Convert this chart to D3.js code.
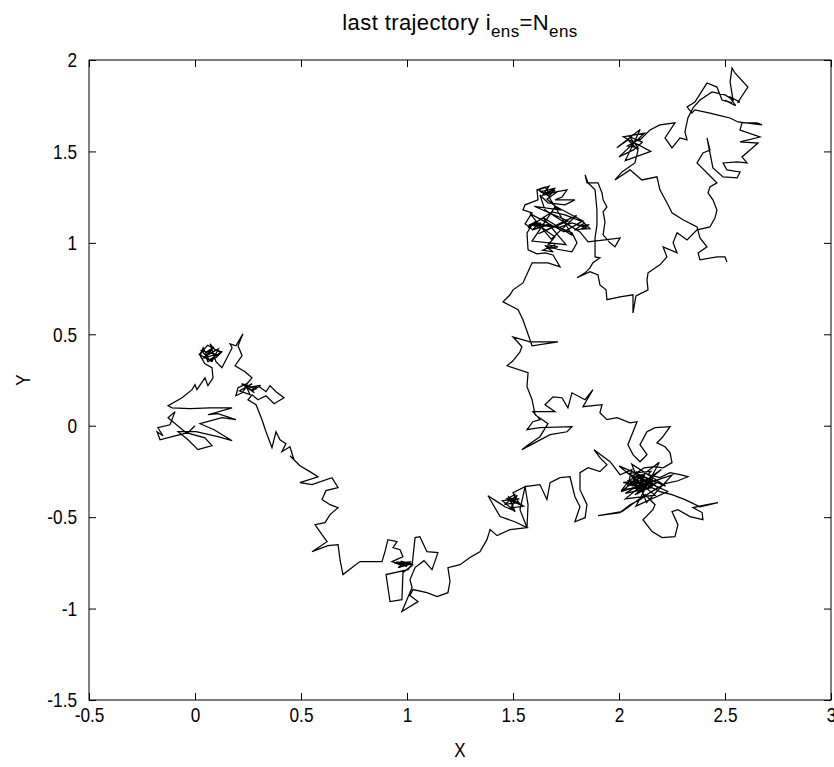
<!DOCTYPE html>
<html>
<head>
<meta charset="utf-8">
<script src="https://cdn.jsdelivr.net/npm/d3@7"></script>
<style>
  html, body { margin: 0; padding: 0; background: #fff; overflow: hidden; }
  svg { display: block; }
  text { font-family: "Liberation Sans", Arial, sans-serif; fill: #000; }
</style>
</head>
<body>
<svg id="chart" width="834" height="767"></svg>
<script>
// Axis ticks and limits
const xTicks = [-0.5, 0, 0.5, 1, 1.5, 2, 2.5, 3];
const yTicks = [-1.5, -1, -0.5, 0, 0.5, 1, 1.5, 2];
const xDomain = [-0.5, 3];
const yDomain = [-1.5, 2];

// Positions [X, Y] of the last ensemble member, in time order
const track = [
  // start and west lobe
  [0,0],[-0.033,-0.038],[-0.108,-0.060],[-0.165,-0.077],[-0.179,-0.033],[-0.151,-0.055],[-0.175,-0.011],
  [-0.118,0.005],[-0.094,0.077],[-0.127,0.044],[-0.042,-0.038],[0.047,-0.066],[0.080,-0.109],[0.014,-0.131],
  [-0.033,-0.077],[-0.080,-0.033],[0.005,-0.033],[0.108,-0.060],[0.175,-0.082],[0.090,-0.022],[0.024,0.011],
  [0.127,0.044],[0.193,0.033],[0.108,0.066],[0.061,0.060],[0.175,0.098],[0.142,0.098],[0.071,0.098],
  [-0.024,0.093],[-0.108,0.098],[-0.127,0.109],[-0.061,0.153],[-0.014,0.197],[0,0.224],[0.009,0.197],
  [0.047,0.262],[0.061,0.219],[0.085,0.262],[0.080,0.317],[0.047,0.339],[0.024,0.383],[0.038,0.426],
  [0.057,0.383],[0.080,0.415],
  [0.05,0.40],[0.09,0.43],[0.04,0.37],[0.10,0.39],[0.03,0.41],[0.07,0.36],[0.12,0.40],[0.06,0.44],
  [0.02,0.39],[0.08,0.35],[0.11,0.42],[0.05,0.38],
  [0.061,0.350],[0.099,0.372],[0.127,0.404],[0.094,0.415],[0.071,0.448],[0.099,0.350],
  [0.127,0.317],[0.156,0.383],[0.175,0.426],[0.165,0.448],[0.193,0.437],[0.226,0.503],[0.203,0.437],
  [0.222,0.383],[0.189,0.328],[0.236,0.295],[0.269,0.262],[0.245,0.230],[0.203,0.208],[0.193,0.164],
  [0.222,0.180],[0.250,0.224],
  [0.23,0.20],[0.27,0.23],[0.21,0.19],[0.26,0.17],[0.24,0.22],[0.29,0.20],[0.22,0.23],[0.28,0.18],
  [0.25,0.21],[0.31,0.22],[0.27,0.19],
  [0.269,0.197],[0.297,0.219],[0.335,0.186],[0.354,0.219],[0.382,0.186],[0.420,0.153],
  [0.373,0.120],[0.335,0.164],[0.297,0.142],[0.269,0.169],[0.250,0.142],[0.288,0.115],[0.316,0.033],
  // descent to the south
  [0.335,-0.033],[0.363,-0.120],[0.382,-0.033],[0.401,-0.077],[0.429,-0.098],[0.410,-0.142],[0.448,-0.115],
  [0.467,-0.186],[0.448,-0.164],[0.495,-0.219],[0.542,-0.251],[0.580,-0.279],[0.495,-0.311],[0.552,-0.322],
  [0.646,-0.284],[0.675,-0.339],[0.618,-0.355],[0.599,-0.404],[0.637,-0.432],[0.675,-0.448],[0.637,-0.486],
  [0.613,-0.530],[0.566,-0.541],[0.599,-0.596],[0.623,-0.634],[0.552,-0.689],[0.627,-0.656],[0.675,-0.650],
  [0.684,-0.732],[0.698,-0.814],[0.741,-0.776],[0.778,-0.743],[0.835,-0.743],[0.882,-0.743],
  // south lobe near X = 1
  [0.896,-0.689],[0.910,-0.623],[0.953,-0.634],[0.934,-0.667],[0.967,-0.678],[0.981,-0.716],[0.929,-0.743],
  [0.991,-0.765],
  [0.95,-0.745],[1.01,-0.755],[0.96,-0.76],[1.02,-0.745],[0.94,-0.75],[1.00,-0.77],[0.97,-0.74],
  [1.03,-0.76],[0.98,-0.755],
  [0.958,-0.776],[1.024,-0.754],[1.005,-0.787],[0.901,-0.814],[0.920,-0.962],[0.976,-0.951],
  [0.981,-0.803],[1.024,-0.765],[1.038,-0.612],[1.061,-0.607],[1.094,-0.689],[1.146,-0.694],[1.118,-0.787],
  [1.080,-0.738],[1.038,-0.776],[1.014,-0.842],[1.024,-0.885],[1.000,-0.951],[0.976,-1.016],[1.052,-0.962],
  [1.014,-0.929],[1.028,-0.896],[1.094,-0.913],[1.142,-0.934],[1.193,-0.913],[1.203,-0.852],[1.193,-0.776],
  [1.250,-0.760],[1.297,-0.721],[1.344,-0.689],
  // climb toward the south-east lobe
  [1.377,-0.623],[1.392,-0.568],[1.425,-0.601],[1.486,-0.568],[1.566,-0.557],
  [1.509,-0.525],[1.439,-0.497],[1.382,-0.383],[1.425,-0.415],[1.462,-0.443],[1.495,-0.459],[1.509,-0.377],
  [1.47,-0.40],[1.53,-0.42],[1.46,-0.43],[1.52,-0.38],[1.49,-0.45],[1.55,-0.44],[1.48,-0.39],
  [1.51,-0.47],[1.45,-0.41],[1.53,-0.40],
  [1.476,-0.404],[1.533,-0.432],[1.500,-0.366],[1.557,-0.333],[1.533,-0.459],[1.566,-0.557],[1.571,-0.432],
  [1.557,-0.333],[1.627,-0.322],[1.660,-0.404],[1.675,-0.311],[1.722,-0.284],[1.769,-0.279],[1.792,-0.388],
  [1.816,-0.443],[1.792,-0.525],[1.840,-0.503],[1.849,-0.432],[1.816,-0.350],[1.816,-0.257],[1.854,-0.230],
  [1.910,-0.251],[1.943,-0.213],[1.910,-0.175],[1.882,-0.131],[1.958,-0.197],
  // south-east lobe
  [2.005,-0.268],[2.061,-0.240],[2.042,-0.322],[2.099,-0.284],[2.123,-0.350],[2.075,-0.377],[2.146,-0.311],
  [2.184,-0.339],[2.108,-0.268],[2.052,-0.295],[2.014,-0.350],[2.090,-0.339],
  [2.05,-0.30],[2.13,-0.32],[2.07,-0.36],[2.16,-0.29],[2.04,-0.33],[2.12,-0.27],[2.09,-0.37],
  [2.18,-0.31],[2.06,-0.28],[2.14,-0.35],[2.02,-0.31],[2.11,-0.30],[2.08,-0.25],[2.15,-0.34],
  [2.03,-0.37],[2.10,-0.32],
  [2.20,-0.24],[2.03,-0.40],[2.17,-0.38],[2.00,-0.22],[2.22,-0.33],[2.06,-0.21],[2.13,-0.42],
  [2.25,-0.27],[2.01,-0.36],[2.19,-0.20],[2.08,-0.44],[2.23,-0.36],[2.04,-0.26],[2.15,-0.25],
  [2.137,-0.268],[2.193,-0.284],[2.241,-0.257],[2.288,-0.268],[2.325,-0.279],[2.278,-0.301],
  [2.217,-0.317],[2.146,-0.366],[2.099,-0.404],[2.052,-0.432],[2.005,-0.475],[1.901,-0.492],[2.014,-0.470],
  [2.080,-0.415],[2.123,-0.377],[2.170,-0.432],[2.160,-0.459],[2.113,-0.514],[2.156,-0.579],[2.203,-0.612],
  [2.264,-0.607],[2.278,-0.541],[2.250,-0.470],[2.278,-0.459],[2.335,-0.497],[2.396,-0.514],[2.392,-0.475],
  [2.349,-0.448],[2.415,-0.432],[2.467,-0.421],[2.382,-0.443],[2.311,-0.404],[2.250,-0.377],[2.193,-0.361],
  [2.146,-0.333],[2.099,-0.311],
  [2.06,-0.33],[2.14,-0.29],[2.08,-0.27],[2.16,-0.33],[2.04,-0.30],[2.12,-0.36],[2.07,-0.31],
  [2.066,-0.273],[2.118,-0.230],[2.170,-0.224],[2.208,-0.230],[2.250,-0.202],[2.241,-0.148],
  [2.217,-0.115],[2.179,-0.093],[2.203,-0.066],[2.241,-0.005],[2.170,-0.011],[2.132,-0.033],[2.099,-0.104],
  [2.132,-0.158],[2.099,-0.197],[2.066,-0.158],[2.042,-0.104],[2.085,0.022],[2.052,0.016],[1.991,0.044],
  [1.943,0.033],[1.910,0.071],[1.920,0.115],[1.830,0.104],[1.877,0.197],[1.840,0.142],[1.778,0.180],
  [1.759,0.098],[1.731,0.153],[1.689,0.158],[1.651,0.115],[1.698,0.077],[1.594,0.077],[1.627,0.033],
  [1.594,0.022],[1.566,-0.022],[1.627,-0.011],[1.778,-0.005],[1.755,-0.033],[1.675,-0.049],[1.613,-0.087],
  [1.542,-0.131],[1.566,-0.109],[1.627,-0.060],[1.665,0.011],[1.604,0.060],
  // climb north along X = 1.5
  [1.590,0.142],[1.566,0.213],[1.571,0.290],[1.472,0.328],[1.500,0.355],[1.533,0.404],[1.542,0.432],
  [1.500,0.486],[1.580,0.459],[1.712,0.459],[1.590,0.437],[1.547,0.579],[1.524,0.634],[1.453,0.678],
  [1.486,0.716],[1.500,0.743],[1.547,0.781],[1.571,0.842],[1.590,0.891],[1.665,0.891],[1.722,0.869],
  // north lobe near Y = 1.1
  [1.689,0.934],[1.651,0.945],[1.613,0.940],[1.571,0.962],[1.566,1.055],[1.590,1.098],[1.651,1.098],
  [1.60,1.11],[1.64,1.08],[1.58,1.10],[1.62,1.12],[1.57,1.09],[1.63,1.11],[1.59,1.07],[1.66,1.10],
  [1.712,1.082],[1.778,1.109],[1.840,1.087],
  [1.80,1.10],[1.85,1.08],[1.79,1.07],[1.84,1.11],[1.81,1.09],[1.86,1.10],[1.82,1.075],
  [1.863,1.077],[1.830,1.115],[1.745,1.153],[1.684,1.169],[1.627,1.126],[1.571,1.082],[1.604,1.115],
  [1.665,1.060],[1.698,1.033],[1.665,0.989],[1.712,0.978],
  [1.66,0.97],[1.70,0.99],[1.64,0.96],[1.69,0.95],[1.65,0.985],[1.71,0.965],
  [1.778,0.951],[1.802,1.000],[1.778,1.055],[1.722,1.082],[1.651,1.093],[1.594,1.071],[1.557,1.104],
  [1.590,1.164],[1.547,1.180],[1.557,1.208],[1.618,1.235],[1.613,1.290],[1.651,1.306],[1.675,1.262],
  [1.698,1.290],
  [1.65,1.27],[1.70,1.30],[1.63,1.28],[1.68,1.25],[1.62,1.29],[1.67,1.31],[1.64,1.26],[1.71,1.28],
  [1.66,1.24],
  [1.72,1.18],[1.60,1.20],[1.76,1.12],[1.62,1.05],[1.80,1.15],[1.68,1.02],[1.58,1.16],[1.74,1.06],
  [1.83,1.12],[1.70,1.20],[1.59,1.01],[1.75,0.99],[1.64,1.14],[1.78,1.04],[1.66,1.27],
  [1.755,1.290],[1.731,1.251],[1.698,1.235],[1.792,1.235],[1.745,1.208],[1.665,1.219],[1.627,1.262],
  [1.651,1.180],[1.708,1.137],[1.769,1.093],[1.816,1.060],[1.854,1.005],[1.934,1.016],[2.005,1.027],
  [1.981,0.978],[1.958,1.000],[1.925,1.044],[1.934,1.115],[1.925,1.169],[1.943,1.197],[1.925,1.235],
  [1.920,1.273],[1.901,1.328],[1.849,1.328],[1.840,1.372],[1.854,1.328],[1.887,1.290],[1.896,1.180],
  [1.896,1.098],[1.887,1.027],[1.887,0.923],[1.910,0.918],[1.877,0.891],[1.863,0.863],[1.840,0.836],
  [1.802,0.809],[1.863,0.842],[1.901,0.825],[1.910,0.770],[1.939,0.743],[1.943,0.689],[2.005,0.705],
  [2.066,0.716],[2.066,0.617],[2.080,0.710],[2.137,0.743],[2.132,0.798],[2.137,0.836],[2.193,0.880],
  [2.226,0.923],[2.208,0.978],[2.274,0.945],[2.255,1.000],[2.274,1.055],[2.321,1.016],[2.368,1.071],
  // north-east lobe
  [2.429,1.087],[2.453,1.137],[2.462,1.180],[2.443,1.235],[2.420,1.273],[2.429,1.306],[2.462,1.328],
  [2.439,1.355],[2.368,1.437],[2.396,1.492],[2.429,1.508],[2.415,1.574],[2.443,1.410],[2.491,1.361],
  [2.557,1.355],[2.571,1.388],[2.509,1.399],[2.491,1.437],[2.557,1.443],[2.604,1.437],[2.580,1.470],
  [2.618,1.508],[2.656,1.546],[2.571,1.552],[2.665,1.579],[2.571,1.617],[2.580,1.656],[2.651,1.656],
  [2.675,1.645],[2.561,1.661],[2.524,1.683],[2.467,1.699],[2.429,1.710],[2.358,1.727],[2.344,1.710],
  [2.321,1.743],[2.358,1.770],[2.415,1.874],[2.462,1.852],[2.486,1.781],[2.533,1.765],
  [2.50,1.78],[2.55,1.75],[2.52,1.80],[2.57,1.77],
  [2.561,1.770],[2.608,1.852],[2.547,1.929],[2.533,1.956],[2.524,1.880],[2.538,1.781],[2.500,1.809],
  [2.439,1.825],[2.382,1.781],[2.349,1.738],[2.325,1.683],[2.311,1.607],[2.321,1.563],[2.288,1.574],
  [2.250,1.519],[2.217,1.574],[2.264,1.656],[2.193,1.645],[2.146,1.617],[2.099,1.563],
  [2.06,1.55],[2.10,1.57],[2.04,1.53],[2.09,1.52],[2.05,1.58],[2.11,1.55],[2.07,1.51],
  [2.00,1.47],[2.12,1.60],[2.02,1.58],[2.15,1.50],[2.03,1.45],[2.10,1.62],[1.99,1.52],
  [2.042,1.563],[2.090,1.508],[2.075,1.437],[2.014,1.388],[1.981,1.344],[2.052,1.399],[2.108,1.344],
  [2.179,1.361],[2.193,1.290],[2.231,1.208],[2.250,1.164],[2.302,1.126],[2.368,1.087],[2.382,1.027],
  [2.415,0.978],[2.373,0.945],[2.382,0.907],[2.462,0.923],[2.500,0.923],[2.509,0.896]
];

const svg = d3.select("#chart");
const plot = { left: 89, right: 831, top: 60, bottom: 700 };

const x = d3.scaleLinear().domain(xDomain).range([plot.left, plot.right]);
const y = d3.scaleLinear().domain(yDomain).range([plot.bottom, plot.top]);

const fmt = d => String(d);
const tickLen = 7;
const squeeze = 0.82;     // narrow glyphs for tick labels
const tickFont = 21;

// Trajectory
svg.append("path")
  .datum(track)
  .attr("fill", "none")
  .attr("stroke", "#000")
  .attr("stroke-width", 1.25)
  .attr("d", d3.line().x(d => x(d[0])).y(d => y(d[1])));

// Axes: inward ticks on all four sides
function styleAxis(g) {
  g.select(".domain").remove();
  g.selectAll(".tick line").attr("stroke", "#000").attr("stroke-width", 1);
  g.selectAll(".tick text").attr("font-size", tickFont).attr("fill", "#000")
    .attr("font-family", '"Liberation Sans", Arial, sans-serif');
}

const gx = svg.append("g")
  .attr("transform", `translate(0,${plot.bottom})`)
  .call(d3.axisBottom(x).tickValues(xTicks).tickFormat(fmt).tickSizeInner(-tickLen).tickSizeOuter(0).tickPadding(7))
  .call(styleAxis);
gx.selectAll(".tick text").attr("transform", `scale(${squeeze},1)`);

svg.append("g")
  .attr("transform", `translate(0,${plot.top})`)
  .call(d3.axisTop(x).tickValues(xTicks).tickFormat("").tickSizeInner(-tickLen).tickSizeOuter(0))
  .call(styleAxis);

const gy = svg.append("g")
  .attr("transform", `translate(${plot.left},0)`)
  .call(d3.axisLeft(y).tickValues(yTicks).tickFormat(fmt).tickSizeInner(-tickLen).tickSizeOuter(0))
  .call(styleAxis);
gy.selectAll(".tick text")
  .attr("x", -12 / squeeze)
  .attr("transform", `scale(${squeeze},1)`);

svg.append("g")
  .attr("transform", `translate(${plot.right},0)`)
  .call(d3.axisRight(y).tickValues(yTicks).tickFormat("").tickSizeInner(-tickLen).tickSizeOuter(0))
  .call(styleAxis);

// Frame
svg.append("rect")
  .attr("x", plot.left).attr("y", plot.top)
  .attr("width", plot.right - plot.left).attr("height", plot.bottom - plot.top)
  .attr("fill", "none").attr("stroke", "#000").attr("stroke-width", 1);

// Title with subscripts
const cx = (plot.left + plot.right) / 2;
const title = svg.append("text")
  .attr("transform", `translate(${cx},30)`)
  .attr("text-anchor", "middle")
  .attr("font-size", 22)
  .attr("letter-spacing", 0.4);
title.append("tspan").text("last trajectory i");
title.append("tspan").attr("font-size", 17).attr("dy", 7).text("ens");
title.append("tspan").attr("dy", -7).text("=N");
title.append("tspan").attr("font-size", 17).attr("dy", 7).text("ens");

// Axis labels
svg.append("text")
  .attr("transform", `translate(${cx},757) scale(0.85,1)`)
  .attr("text-anchor", "middle")
  .attr("font-size", 20)
  .text("X");

svg.append("text")
  .attr("transform", `translate(30,${(plot.top + plot.bottom) / 2}) rotate(-90) scale(0.85,1)`)
  .attr("text-anchor", "middle")
  .attr("font-size", 20)
  .text("Y");
</script>
</body>
</html>
